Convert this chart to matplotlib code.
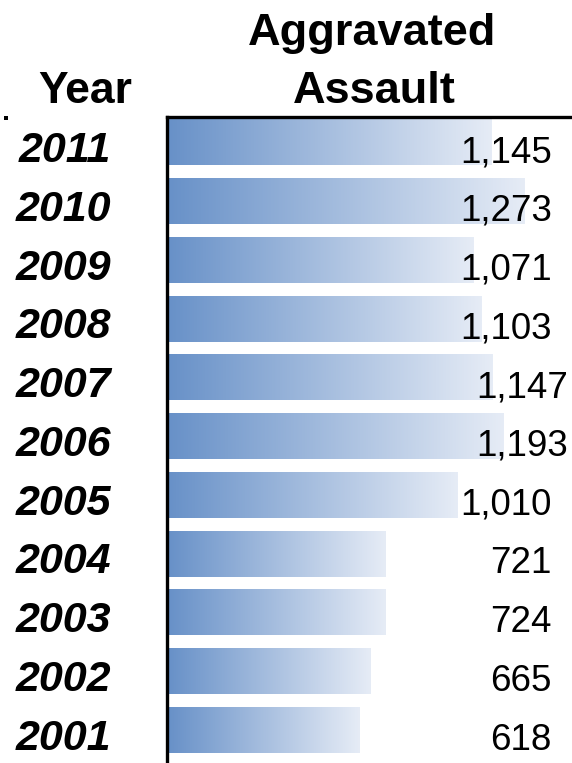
import matplotlib
matplotlib.use("Agg")
import matplotlib.pyplot as plt
import numpy as np
from matplotlib.colors import LinearSegmentedColormap
from matplotlib.transforms import blended_transform_factory, offset_copy
from matplotlib.patches import Rectangle

plt.rcParams['font.family'] = ['Liberation Sans', 'DejaVu Sans']

# ---- data ----
years = ["2011", "2010", "2009", "2008", "2007", "2006", "2005", "2004", "2003", "2002", "2001"]
values = [1145, 1273, 1071, 1103, 1147, 1193, 1010, 721, 724, 665, 618]
value_labels = ["1,145", "1,273", "1,071", "1,103", "1,147", "1,193", "1,010", "721", "724", "665", "618"]
label_shift = [0, 0, 0, 0, 16, 16, 0, 0, 0, 0, 0]   # px, right-edge shift of value labels

W, H = 572, 763
fig = plt.figure(figsize=(W / 100, H / 100), dpi=100)
ax_left = 167 / W
ax_top = 1 - 117 / H
ax = fig.add_axes([ax_left, 0.0, 1.0 - ax_left + 0.01, ax_top])

x0 = -137
xmax = 1486
ypos = np.arange(len(years))
bar_h = 0.78

cmap = LinearSegmentedColormap.from_list("g", ["#6891c8", "#e6ecf6"])
grad = np.linspace(0, 1, 256).reshape(1, -1)

bars = ax.barh(ypos, [v - x0 for v in values], left=x0, height=bar_h,
               facecolor="none", edgecolor="none")
for b in bars:
    bx, by, bw, bh = b.get_x(), b.get_y(), b.get_width(), b.get_height()
    ax.imshow(grad, cmap=cmap, aspect="auto", extent=[bx, bx + bw, by + bh, by],
              interpolation="bilinear", zorder=1)

ax.set_xlim(x0 - 8, xmax)
ax.set_ylim(len(years) - 1 + 0.56, -0.434)

for s in ["right", "bottom"]:
    ax.spines[s].set_visible(False)
for s in ["left", "top"]:
    ax.spines[s].set_linewidth(2.4)
    ax.spines[s].set_color("black")
ax.set_xticks([])
ax.set_yticks([])

# value labels and year labels (baseline ~19.5px below bar centre)
trans_fig_data = blended_transform_factory(fig.transFigure, ax.transData)
for i, (lab, yr, sh) in enumerate(zip(value_labels, years, label_shift)):
    t = offset_copy(trans_fig_data, fig=fig, x=0, y=-19.5 * 72 / 100, units="points")
    ax.text((552 + sh) / W, ypos[i], lab, transform=t, ha="right", va="baseline",
            fontsize=26.5, color="black", clip_on=False)
    ax.text(111 / W, ypos[i], yr, transform=t, ha="right", va="baseline",
            fontsize=31, fontweight="bold", fontstyle="italic", color="black", clip_on=False)

# headers
fig.text(85 / W, 1 - 103 / H, "Year", ha="center", va="baseline",
         fontsize=32, fontweight="bold")
fig.text(372 / W, 1 - 45 / H, "Aggravated", ha="center", va="baseline",
         fontsize=32.5, fontweight="bold")
fig.text(374 / W, 1 - 103 / H, "Assault", ha="center", va="baseline",
         fontsize=32.5, fontweight="bold")

# small corner mark
fig.patches.append(Rectangle((4 / W, 1 - 120 / H), 4 / W, 4 / H, transform=fig.transFigure,
                             facecolor="black", edgecolor="none"))

fig.savefig("out.png", dpi=100)
